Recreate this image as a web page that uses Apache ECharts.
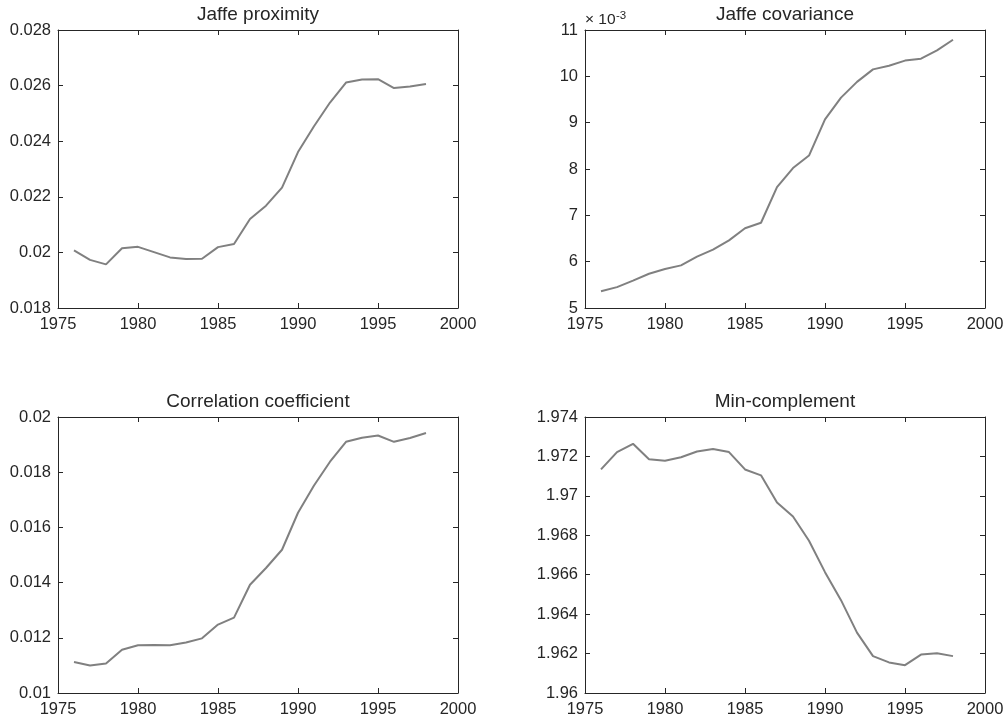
<!DOCTYPE html>
<html>
<head>
<meta charset="utf-8">
<script src="https://cdn.jsdelivr.net/npm/echarts@6/dist/echarts.min.js"></script>
<style>html,body{margin:0;padding:0;background:#fff;}#c{width:1007px;height:722px;}</style>
</head>
<body>
<div id="c"></div>
<script>
const years = [1976,1977,1978,1979,1980,1981,1982,1983,1984,1985,1986,1987,1988,1989,1990,1991,1992,1993,1994,1995,1996,1997,1998];
const jaffeProximity = [0.02007,0.01973,0.01957,0.02015,0.0202,0.02001,0.01982,0.01976,0.01977,0.02019,0.0203,0.0212,0.02168,0.02233,0.02361,0.02454,0.02539,0.02611,0.02622,0.02623,0.02591,0.02597,0.02606];
const jaffeCovariance = [0.00536,0.00545,0.00559,0.00574,0.00584,0.00592,0.00611,0.00626,0.00646,0.00672,0.00684,0.00761,0.00802,0.00829,0.00907,0.00954,0.00988,0.01015,0.01023,0.01034,0.01038,0.01056,0.01079];
const correlationCoefficient = [0.01112,0.011,0.01107,0.01157,0.01173,0.01174,0.01173,0.01183,0.01198,0.01248,0.01273,0.01392,0.01453,0.01519,0.01653,0.01752,0.01838,0.0191,0.01925,0.01933,0.0191,0.01924,0.01942];
const minComplement = [1.97134,1.97222,1.97264,1.97186,1.97178,1.97196,1.97225,1.97238,1.97222,1.97134,1.97104,1.96966,1.96895,1.96772,1.96613,1.96471,1.96306,1.96187,1.96155,1.96141,1.96195,1.96202,1.96187];
const titles = ["Jaffe proximity","Jaffe covariance","Correlation coefficient","Min-complement"];
const xRange = {min:1975, max:2000, interval:5};
const yRanges = [
  {min:0.018, max:0.028, interval:0.002},
  {min:0.005, max:0.011, interval:0.001},
  {min:0.01, max:0.02, interval:0.002},
  {min:1.96, max:1.974, interval:0.002}
];
const seriesData = [jaffeProximity, jaffeCovariance, correlationCoefficient, minComplement];

const FONT = '"Liberation Sans", Arial, Helvetica, sans-serif';
const TXT = '#262626';
const grids = [
  {left:58, top:30, width:400, height:278},
  {left:585, top:30, width:400, height:278},
  {left:58, top:417, width:400, height:276},
  {left:585, top:417, width:400, height:276}
];
const axisLine = {show:true, onZero:false, lineStyle:{color:TXT, width:1}};
const tick = {show:true, inside:true, length:5, lineStyle:{color:TXT, width:1}};
const xAxes = [], yAxes = [], series = [], titleOpts = [];
grids.forEach((g,i)=>{
  xAxes.push({type:'value', gridIndex:i, position:'bottom', min:xRange.min, max:xRange.max, interval:xRange.interval,
    axisLine, axisTick:tick, splitLine:{show:false},
    axisLabel:{color:TXT, fontFamily:FONT, fontSize:16.5, margin:8, formatter:v=>String(v)}});
  xAxes.push({type:'value', gridIndex:i, position:'top', min:xRange.min, max:xRange.max, interval:xRange.interval,
    axisLine, axisTick:tick, splitLine:{show:false}, axisLabel:{show:false}});
  const yr = yRanges[i];
  const fmt = i===1 ? (v=>String(Math.round(v*1000))) : (v=>String(parseFloat(v.toFixed(4))));
  yAxes.push({type:'value', gridIndex:i, position:'left', min:yr.min, max:yr.max, interval:yr.interval,
    axisLine, axisTick:tick, splitLine:{show:false},
    axisLabel:{color:TXT, fontFamily:FONT, fontSize:16.5, margin:7, formatter:fmt}});
  yAxes.push({type:'value', gridIndex:i, position:'right', min:yr.min, max:yr.max, interval:yr.interval,
    axisLine, axisTick:tick, splitLine:{show:false}, axisLabel:{show:false}});
  series.push({type:'line', xAxisIndex:2*i, yAxisIndex:2*i, showSymbol:false, symbol:'none',
    lineStyle:{color:'#808080', width:2}, data:years.map((y,k)=>[y, seriesData[i][k]]), animation:false});
  titleOpts.push({text:titles[i], left:g.left+g.width/2, textAlign:'center', top:g.top-25, padding:0,
    textStyle:{color:TXT, fontFamily:FONT, fontSize:19, fontWeight:'normal'}});
});
const chart = echarts.init(document.getElementById('c'), null, {renderer:'canvas'});
chart.setOption({
  backgroundColor:'#fff',
  animation:false,
  title:titleOpts,
  grid:grids,
  xAxis:xAxes,
  yAxis:yAxes,
  series:series,
  graphic:[
    {type:'text', x:585, y:28, style:{text:'× 10', fill:TXT, font:'15.5px '+FONT, verticalAlign:'bottom', align:'left'}},
    {type:'text', x:616, y:22, style:{text:'-3', fill:TXT, font:'11.5px '+FONT, verticalAlign:'bottom', align:'left'}}
  ]
});
</script>
</body>
</html>
